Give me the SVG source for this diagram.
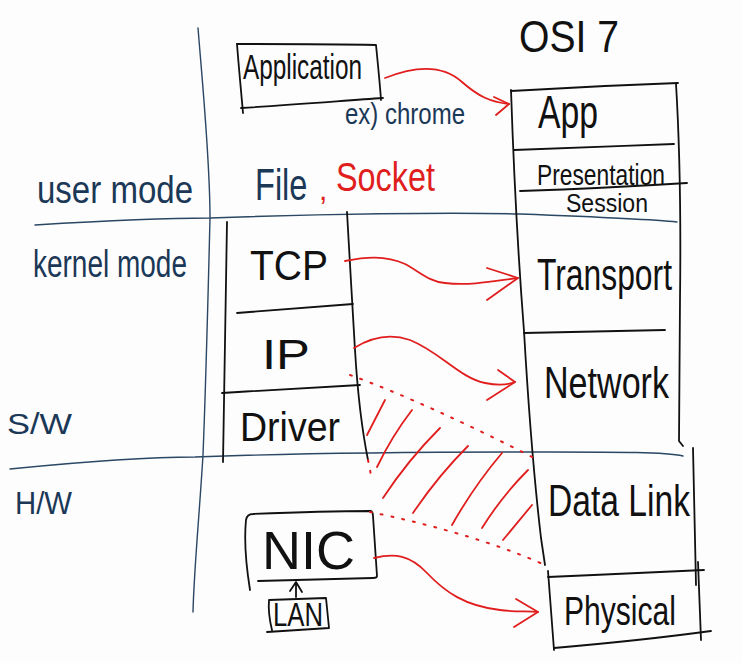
<svg xmlns="http://www.w3.org/2000/svg" width="742" height="663" viewBox="0 0 742 663">
<style>
.bl{fill:none;stroke:#2a4763;stroke-width:1.4;stroke-linecap:round;stroke-linejoin:round}
.k{fill:none;stroke:#111;stroke-width:1.8;stroke-linecap:round;stroke-linejoin:round}
.r{fill:none;stroke:#e01e1e;stroke-width:1.8;stroke-linecap:round;stroke-linejoin:round}
.rd{fill:none;stroke:#e01e1e;stroke-width:2;stroke-linecap:round;stroke-dasharray:2 9}
text{font-family:"Liberation Sans",Arial,sans-serif}
.tb{fill:#1b3857}
.tk{fill:#111}
.tr{fill:#e01e1e}
</style>
<rect width="742" height="663" fill="#fdfdfd"/>
<g id="frame">
<path class="bl" d="M198,28 C203,90 210,160 210,218 C208,300 206,380 203,455 C199,520 194,570 193,612"/>
<path class="bl" d="M35,225 C100,221 170,218 210,218 C320,214 450,212 520,214 C600,217 650,219 677,222"/>
<path class="bl" d="M10,469 C80,462 150,457 195,457 C300,453 450,452 550,452 C620,452 665,452 683,456"/>
<text class="tb" x="37" y="203" font-size="38" textLength="156" lengthAdjust="spacingAndGlyphs">user mode</text>
<text class="tb" x="33" y="277" font-size="38" textLength="154" lengthAdjust="spacingAndGlyphs">kernel mode</text>
<text class="tb" x="7" y="434" font-size="30" textLength="65" lengthAdjust="spacingAndGlyphs">S/W</text>
<text class="tb" x="15" y="514" font-size="32" textLength="57" lengthAdjust="spacingAndGlyphs">H/W</text>
<text class="tb" transform="translate(255,200) scale(0.74,1)" x="0" y="0" font-size="44">File</text>
<text class="tr" x="319" y="200" font-size="30">,</text>
<text class="tr" x="336" y="191" font-size="40" textLength="99" lengthAdjust="spacingAndGlyphs">Socket</text>
<text class="tk" x="519" y="52" font-size="44" textLength="100" lengthAdjust="spacingAndGlyphs">OSI 7</text>
</g>
<g id="application">
<path class="k" d="M237,44 C280,44 330,44 376,45 C378,65 380,85 381,100"/>
<path class="k" d="M237,44 C239,70 241,90 243,113"/>
<path class="k" d="M241,108 C290,105 340,101 383,98"/>
<text class="tk" x="243" y="79" font-size="35" textLength="119" lengthAdjust="spacingAndGlyphs">Application</text>
<text class="tb" x="345" y="124" font-size="30" textLength="120" lengthAdjust="spacingAndGlyphs">ex) chrome</text>
</g>
<g id="osi-stack">
<path class="k" d="M511,91 C560,88 620,85 678,83"/>
<path class="k" d="M511,90 C514,180 520,280 524,331 C528,400 533,470 541,538 L545,565"/>
<path class="k" d="M676,84 C680,150 681,220 680,300 L679,441 L683,446"/>
<path class="k" d="M514,150 C560,148 620,146 674,144"/>
<path class="k" d="M520,191 C580,189 640,186 687,183"/>
<path class="k" d="M524,333 L665,330"/>
</g>
<g id="osi-app"><text class="tk" x="538" y="128" font-size="46" textLength="60" lengthAdjust="spacingAndGlyphs">App</text></g>
<g id="osi-presentation"><text class="tk" x="537" y="185" font-size="30" textLength="128" lengthAdjust="spacingAndGlyphs">Presentation</text></g>
<g id="osi-session"><text class="tk" x="566" y="212" font-size="25" textLength="82" lengthAdjust="spacingAndGlyphs">Session</text></g>
<g id="osi-transport"><text class="tk" x="537" y="290" font-size="44" textLength="135" lengthAdjust="spacingAndGlyphs">Transport</text></g>
<g id="osi-network"><text class="tk" x="544" y="398" font-size="44" textLength="125" lengthAdjust="spacingAndGlyphs">Network</text></g>
<g id="osi-datalink">
<path class="k" d="M693,448 L696,585"/>
<path class="k" d="M548,577 C600,575 650,572 704,570"/>
<text class="tk" x="548" y="516" font-size="44" textLength="142" lengthAdjust="spacingAndGlyphs">Data Link</text>
</g>
<g id="osi-physical">
<path class="k" d="M548,571 L554,650"/>
<path class="k" d="M698,562 L701,640"/>
<path class="k" d="M554,648 C600,644 660,638 711,631"/>
<text class="tk" x="564" y="625" font-size="40" textLength="112" lengthAdjust="spacingAndGlyphs">Physical</text>
</g>
<g id="kernel-stack">
<path class="k" d="M227,222 C226,300 224,380 223,462"/>
<path class="k" d="M347,212 C350,260 352,303 355,350 C358,400 362,430 368,460"/>
<path class="k" d="M237,313 L353,304"/>
<path class="k" d="M222,393 C270,390 320,387 360,385"/>
</g>
<g id="tcp"><text class="tk" x="250" y="280" font-size="42" textLength="78" lengthAdjust="spacingAndGlyphs">TCP</text></g>
<g id="ip"><text class="tk" x="262" y="369" font-size="42" textLength="48" lengthAdjust="spacingAndGlyphs">IP</text></g>
<g id="driver"><text class="tk" x="240" y="441" font-size="40" textLength="100" lengthAdjust="spacingAndGlyphs">Driver</text></g>
<g id="nic">
<path class="k" d="M250,590 C246,565 244,540 246,520 Q247,514 253,514 C300,512 340,511 371,511 Q373,512 373,516 L377,576 Q377,578 373,578 L258,581"/>
<text class="tk" x="262" y="569" font-size="53" textLength="93" lengthAdjust="spacingAndGlyphs">NIC</text>
</g>
<g id="lan">
<path class="k" d="M269,600 L326,598 L329,628 L267,632 M269,600 C268,612 270,622 272,630"/>
<text class="tk" x="273" y="626" font-size="34" textLength="50" lengthAdjust="spacingAndGlyphs">LAN</text>
</g>
<g id="connectors">
<path class="k" d="M296,597 L296,583 M290,591 L296,582 L302,592"/>
<path class="r" d="M385,78 C410,68 440,62 462,82 C478,96 490,102 509,104"/>
<path class="r" d="M494,97 L509,104 L496,115"/>
<path class="r" d="M345,261 C365,257 385,255 405,264 C420,272 430,282 445,283 C470,286 495,281 518,278"/>
<path class="r" d="M487,268 L518,278 L487,300"/>
<path class="r" d="M354,348 C370,338 390,333 410,340 C440,352 460,378 485,383 C500,386 510,384 515,382"/>
<path class="r" d="M498,370 L515,382 L487,400"/>
<path class="r" d="M374,558 C395,553 410,555 427,573 C445,592 465,606 500,610 C515,612 528,611 538,612"/>
<path class="r" d="M516,599 L538,612 L514,627"/>
<path class="rd" d="M350,375 C400,393 470,425 534,458"/>
<path class="rd" d="M370,512 C420,522 490,540 547,566"/>
<path class="rd" d="M368,460 L372,480"/>
<path class="r" d="M367,435 L385,400 M377,467 Q392,436 412,410 M383,498 Q408,460 440,428 M413,513 Q438,476 468,446 M452,525 Q474,486 502,453 M482,528 Q502,496 528,470 M503,540 L532,505"/>
</g>
</svg>
